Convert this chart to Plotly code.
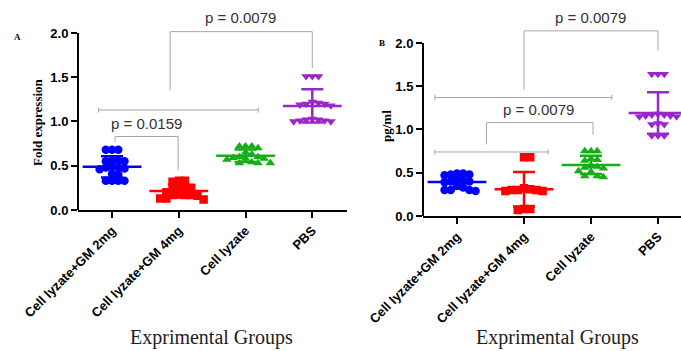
import plotly.graph_objects as go

# ---------------- data ----------------
categories = ["Cell lyzate+GM 2mg", "Cell lyzate+GM 4mg", "Cell lyzate", "PBS"]

# Panel A: Fold expression
a_gm2 = [0.68, 0.68, 0.68, 0.56, 0.56, 0.55, 0.55, 0.49, 0.48, 0.48, 0.47, 0.46, 0.41, 0.40, 0.33, 0.33, 0.33, 0.33]
a_gm4 = [0.33, 0.33, 0.32, 0.26, 0.25, 0.25, 0.25, 0.20, 0.18, 0.17, 0.17, 0.17, 0.16, 0.13, 0.13, 0.12]
a_lys = [0.72, 0.72, 0.72, 0.70, 0.65, 0.63, 0.60, 0.60, 0.59, 0.58, 0.58, 0.57, 0.54, 0.53, 0.53, 0.53]
a_pbs = [1.51, 1.51, 1.51, 1.22, 1.21, 1.20, 1.20, 1.19, 1.18, 1.03, 1.02, 1.02, 1.01, 1.01, 1.00, 1.00]

# Panel B: pg/ml
b_gm2 = [0.49, 0.49, 0.48, 0.48, 0.47, 0.42, 0.41, 0.40, 0.40, 0.39, 0.35, 0.33, 0.30, 0.30, 0.30, 0.29]
b_gm4 = [0.68, 0.68, 0.32, 0.31, 0.30, 0.30, 0.30, 0.29, 0.29, 0.08, 0.08, 0.07]
b_lys = [0.75, 0.75, 0.75, 0.66, 0.65, 0.64, 0.58, 0.57, 0.56, 0.55, 0.52, 0.51, 0.46, 0.46, 0.45]
b_pbs = [1.64, 1.64, 1.64, 1.18, 1.17, 1.17, 1.16, 1.16, 1.15, 1.15, 1.07, 1.06, 1.06, 0.93, 0.93, 0.93]

y_ticks = [0.0, 0.5, 1.0, 1.5, 2.0]

# significance annotations (data coordinates)
a_brackets = [  # (x_left, y_left_bottom, x_right, y_right_bottom, y_top, label, label_x, label_y)
    (0.87, 1.35, 3.0, 1.60, 2.015, "p = 0.0079", 1.92, 2.17),
    (0.045, 0.77, 0.99, 0.45, 0.83, "p = 0.0159", 0.52, 0.98),
]
a_spans = [(-0.2, 2.19, 1.13)]
b_brackets = [
    (1.0, 1.46, 3.0, 1.91, 2.14, "p = 0.0079", 1.99, 2.29),
    (0.44, 0.83, 2.03, 0.94, 1.08, "p = 0.0079", 1.22, 1.23),
]
b_spans = [(-0.33, 2.31, 1.37), (-0.33, 1.36, 0.74)]

# ---------------- style ----------------
colors = ["#0000ff", "#ff0000", "#17ad17", "#9b27cc"]
symbols = ["circle", "square", "triangle-up", "triangle-down"]
W, H = 681, 351
GRAY = "#a6a6a6"


def swarm(vals, xpx, ypx, d):
    """deterministic beeswarm offsets (in x data units)"""
    placed = []
    offs = []
    for v in vals:
        k = 0
        while True:
            for cand in ([0.0] if k == 0 else [k * d / 2, -k * d / 2]):
                ok = all(((cand - px) ** 2 + ((v - pv) * ypx) ** 2) >= (d * 0.9) ** 2 for px, pv in placed)
                if ok:
                    break
            else:
                k += 1
                continue
            break
        placed.append((cand, v))
        offs.append(cand / xpx)
    return offs


def mean_sd(v):
    n = len(v)
    m = sum(v) / n
    s = (sum((x - m) ** 2 for x in v) / (n - 1)) ** 0.5
    return m, s


fig = go.Figure()

panels = [
    dict(groups=[a_gm2, a_gm4, a_lys, a_pbs], xa="x", ya="y", xpx=66.7, ypx=88.5,
         brackets=a_brackets, spans=a_spans),
    dict(groups=[b_gm2, b_gm4, b_lys, b_pbs], xa="x2", ya="y2", xpx=67.0, ypx=86.5,
         brackets=b_brackets, spans=b_spans),
]

shapes = []
annotations = []
for p in panels:
    for i, vals in enumerate(p["groups"]):
        offs = swarm(vals, p["xpx"], p["ypx"], 6.2)
        fig.add_trace(go.Scatter(
            x=[i + o for o in offs], y=vals, mode="markers", xaxis=p["xa"], yaxis=p["ya"],
            marker=dict(symbol=symbols[i], size=8.5, color=colors[i], line=dict(width=0)),
            showlegend=False, hoverinfo="y"))
        m, s = mean_sd(vals)
        fig.add_trace(go.Scatter(
            x=[i], y=[m], mode="markers", xaxis=p["xa"], yaxis=p["ya"],
            marker=dict(symbol="line-ew", size=42, color=colors[i], line=dict(width=2.5, color=colors[i])),
            error_y=dict(type="data", array=[s], width=11, thickness=2.5, color=colors[i]),
            showlegend=False, hoverinfo="y"))
    for (xl, yl, xr, yr, yt, lab, lx, ly) in p["brackets"]:
        shapes.append(dict(type="path", xref=p["xa"], yref=p["ya"],
                           path=f"M {xl},{yl} L {xl},{yt} L {xr},{yt} L {xr},{yr}",
                           line=dict(color=GRAY, width=1)))
        annotations.append(dict(x=lx, y=ly, xref=p["xa"], yref=p["ya"], text=lab, showarrow=False,
                                xanchor="center", yanchor="middle",
                                font=dict(family="Liberation Sans", size=15, color="#333333")))
    for (x0, x1, y) in p["spans"]:
        c = 0.03
        shapes.append(dict(type="path", xref=p["xa"], yref=p["ya"],
                           path=f"M {x0},{y-c} L {x0},{y+c} M {x0},{y} L {x1},{y} M {x1},{y-c} L {x1},{y+c}",
                           line=dict(color=GRAY, width=1)))
    shapes.append(dict(type="line", xref=p["xa"] + " domain", yref=p["ya"], x0=0, x1=0, y0=0, y1=2.0,
                       line=dict(color="black", width=2)))

tickfont = dict(family="Liberation Sans", size=13, color="black", weight="bold")
xcommon = dict(tickmode="array", tickvals=[0, 1, 2, 3], ticktext=categories, tickangle=-45,
               tickfont=tickfont, showline=True, linecolor="black", linewidth=2,
               ticks="outside", ticklen=6, tickwidth=2, tickcolor="black", automargin=False,
               showgrid=False, zeroline=False, fixedrange=True)
ycommon = dict(tickmode="array", tickvals=y_ticks, ticktext=[f"{v:.1f}" for v in y_ticks],
               tickfont=tickfont, showline=False, ticks="outside", ticklen=6, tickwidth=2,
               tickcolor="black", showgrid=False, zeroline=False, fixedrange=True, automargin=False)

fig.update_layout(
    width=W, height=H, margin=dict(l=0, r=0, t=0, b=0, autoexpand=False),
    paper_bgcolor="white", plot_bgcolor="white",
    xaxis=dict(xcommon, domain=[78 / W, 347 / W], range=[-0.51, 3.52], anchor="y"),
    yaxis=dict(ycommon, domain=[1 - 210 / H, 1 - 6.4 / H], range=[0, 2.3], anchor="x"),
    xaxis2=dict(xcommon, domain=[423 / W, 1.0], range=[-0.507, 3.343], anchor="y2"),
    yaxis2=dict(ycommon, domain=[1 - 216 / H, 1 - 12.7 / H], range=[0, 2.35], anchor="x2"),
    shapes=shapes,
)


def pann(x, y, text, font, angle=0):
    return dict(x=x / W, y=1 - y / H, xref="paper", yref="paper", text=text, textangle=angle,
                showarrow=False, xanchor="center", yanchor="middle", font=font)


serif_b = dict(family="Liberation Serif", size=13, color="black", weight="bold")
small_b = dict(family="Liberation Serif", size=9, color="black", weight="bold")
big = dict(family="Liberation Serif", size=20, color="#222222")
annotations += [
    pann(37, 122, "Fold expression", serif_b, -90),
    pann(386, 126, "pg/ml", serif_b, -90),
    pann(17, 37, "A", small_b),
    pann(382, 43, "B", small_b),
    pann(211, 337, "Exprimental Groups", big),
    pann(557, 337, "Exprimental Groups", big),
]
fig.update_layout(annotations=annotations)

fig.write_html("out.html")
